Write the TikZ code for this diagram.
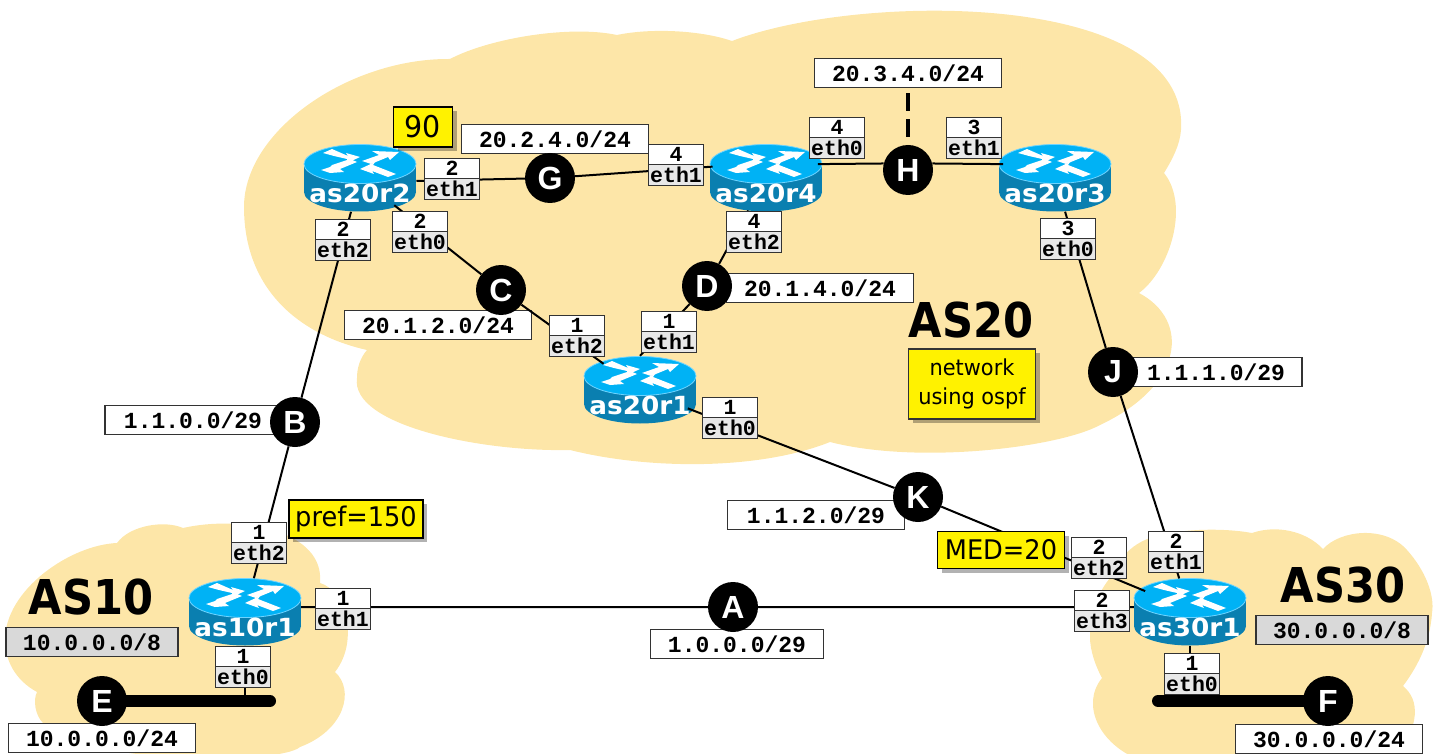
\documentclass[tikz,border=0pt]{standalone}
\usepackage{fontspec}
\usetikzlibrary{shapes.geometric,shapes.multipart,shadows}
\newfontfamily\netfont{Liberation Mono}
\newfontfamily\noteFont[FakeStretch=0.95]{DejaVu Sans}
\newfontfamily\asFont[FakeStretch=0.9]{DejaVu Sans}
\newfontfamily\routerFont[FakeStretch=1.05]{DejaVu Sans}
\newfontfamily\letterFont{Liberation Sans}
\definecolor{cloudcolor}{HTML}{FDE6A8}
\definecolor{routertop}{HTML}{00B2F5}
\definecolor{routerside}{HTML}{0A7FB0}
\definecolor{routerrim}{HTML}{6FD4FF}
\definecolor{boxline}{HTML}{333333}
\tikzset{
    cloud/.style={fill=cloudcolor},
    router/.style={ellipse, inner sep=0pt, minimum width=113pt, minimum height=68pt},
    routertext/.style={text=white, yshift=-15pt, inner sep=0pt, font=\routerFont\bfseries\fontsize{25}{26}\selectfont},
    letter/.style={circle, fill=black, text=white, inner sep=0pt, minimum size=50pt, font=\letterFont\bfseries\fontsize{32}{32}\selectfont},
    netbox/.style={draw=boxline, fill=white, line width=1.2pt, minimum width=187pt, minimum height=29pt, inner sep=0pt, font=\netfont\bfseries\fontsize{23}{24}\selectfont},
    asbox/.style={netbox, fill=black!15, minimum width=172pt},
    ifbox/.style={rectangle split, rectangle split parts=2, rectangle split part fill={white,black!9}, draw=boxline, line width=1.2pt, text width=54pt, align=center, inner xsep=0.5pt, inner ysep=2pt, font=\netfont\bfseries\fontsize{21.5}{19}\selectfont},
    note/.style={draw=black, fill=yellow, line width=1.8pt, inner sep=0pt, font=\noteFont\fontsize{27}{30}\selectfont, general shadow={shadow xshift=4pt, shadow yshift=-4pt, fill=black, opacity=.3}},
    asname/.style={inner sep=0pt, font=\asFont\bfseries\fontsize{48}{48}\selectfont},
    link/.style={draw, line width=2pt},
    lan/.style={draw, line width=12pt, line cap=round},
}
\newcommand{\routericon}[2]{
    \begin{scope}[shift={(#1,#2)}]
        \fill[routerside] (-56,-14) rectangle (56,14);
        \fill[routerside] (0,14) ellipse [x radius=56, y radius=19.5];
        \fill[routertop, draw=routerrim, line width=.8pt] (0,-14) ellipse [x radius=56, y radius=19.5];
        \fill[white] (-37,-25) -- (-28,-29) -- (-12,-22) -- (-14,-25) -- (0,-21) -- (-13,-15) -- (-13,-19) -- (-26,-22) -- cycle;
        \fill[white] (2,-17) -- (19,-23) -- (12,-27) -- (39,-26) -- (30,-18) -- (28,-21) -- (11,-14) -- cycle;
        \fill[white] (-39,-8) -- (-30,-11) -- (-28,-13) -- (-10,-19) -- (-3,-16) -- (-20,-9) -- (-16,-6) -- (-30,-5) -- cycle;
        \fill[white] (0,-9) -- (15,-16) -- (13,-13) -- (36,-4) -- (28,-1) -- (12,-7) -- (14,-4) -- cycle;
    \end{scope}
}
\newcommand{\ifacebox}[5]{
    \node[ifbox] (#1) at (#2,#3) {#4\nodepart{two}#5};
}
\begin{document}
\begin{tikzpicture}[x=1pt, y=-1pt]
    \useasboundingbox (0,0) rectangle (1435,754);

    \fill[cloud] (244,207) .. controls (244,130) and (350,58) .. (450,59)
        .. controls (490,38) and (570,25) .. (617,35)
        .. controls (650,28) and (700,30) .. (732,41)
        .. controls (860,-8) and (1190,-10) .. (1181,130)
        .. controls (1180,145) and (1172,160) .. (1164,173)
        .. controls (1190,205) and (1170,270) .. (1139,293)
        .. controls (1190,320) and (1185,385) .. (1100,425)
        .. controls (1060,447) and (920,465) .. (830,442)
        .. controls (760,470) and (650,470) .. (570,450)
        .. controls (480,452) and (350,425) .. (357,378)
        .. controls (357,368) and (360,358) .. (367,350)
        .. controls (300,335) and (244,290) .. (244,207) -- cycle;

    \fill[cloud] (5,640) .. controls (5,590) and (70,545) .. (117,543)
        .. controls (130,525) and (165,520) .. (183,528)
        .. controls (240,515) and (325,530) .. (320,583)
        .. controls (345,590) and (360,640) .. (335,672)
        .. controls (355,690) and (345,730) .. (300,747)
        .. controls (280,765) and (80,765) .. (43,723)
        .. controls (35,715) and (33,700) .. (37,692)
        .. controls (15,680) and (5,660) .. (5,640) -- cycle;

    \fill[cloud] (1090,637) .. controls (1090,610) and (1100,590) .. (1110,578)
        .. controls (1118,560) and (1130,545) .. (1150,538)
        .. controls (1180,528) and (1225,528) .. (1252,533)
        .. controls (1275,525) and (1305,530) .. (1323,549)
        .. controls (1340,530) and (1385,525) .. (1407,550)
        .. controls (1425,570) and (1435,595) .. (1432,613)
        .. controls (1430,645) and (1415,670) .. (1403,686)
        .. controls (1420,700) and (1420,725) .. (1395,760)
        -- (1140,760) .. controls (1100,745) and (1080,705) .. (1102,678)
        .. controls (1095,665) and (1090,650) .. (1090,637) -- cycle;

    \node[netbox] (net24) at (555,139) {20.2.4.0/24};
    \node[netbox] (net34) at (908,73) {20.3.4.0/24};
    \node[netbox] (net14) at (820,288) {20.1.4.0/24};
    \node[netbox] (net12) at (438,325) {20.1.2.0/24};
    \node[netbox, minimum width=172pt] (net111) at (1216,372) {1.1.1.0/29};
    \node[netbox, minimum width=176pt] (net110) at (193,420) {1.1.0.0/29};
    \node[netbox, minimum width=177pt] (net112) at (816,515) {1.1.2.0/29};
    \node[netbox, minimum width=173pt] (net100) at (737,644) {1.0.0.0/29};
    \node[netbox] (net10) at (102,738) {10.0.0.0/24};
    \node[netbox] (net30) at (1329,739) {30.0.0.0/24};
    \node[asbox] (net10as) at (92,642) {10.0.0.0/8};
    \node[asbox] (net30as) at (1342,630) {30.0.0.0/8};

    \routericon{360}{178}
    \routericon{766}{178}
    \routericon{1055}{178}
    \routericon{640}{390}
    \routericon{245}{612}
    \routericon{1190}{612}
    \node[router, label={[routertext]center:as20r2}] (as20r2) at (360,178) {};
    \node[router, label={[routertext]center:as20r4}] (as20r4) at (766,178) {};
    \node[router, label={[routertext]center:as20r3}] (as20r3) at (1055,178) {};
    \node[router, label={[routertext]center:as20r1}] (as20r1) at (640,390) {};
    \node[router, label={[routertext]center:as10r1}] (as10r1) at (245,612) {};
    \node[router, label={[routertext]center:as30r1}] (as30r1) at (1190,612) {};

    \node[letter] (A) at (733,607) {A};
    \node[letter] (B) at (295,422) {B};
    \node[letter] (C) at (501,290) {C};
    \node[letter] (D) at (707,286) {D};
    \node[letter] (E) at (102,701) {E};
    \node[letter] (F) at (1328,701) {F};
    \node[letter] (G) at (550,178) {G};
    \node[letter] (H) at (908,170) {H};
    \node[letter] (J) at (1113,372) {J};
    \node[letter] (K) at (918,497) {K};

    \coordinate (tapE) at (245,701);
    \coordinate (endE) at (270,701);
    \coordinate (tapF) at (1190,701);
    \coordinate (endF) at (1158,701);

    \path[link] (as10r1.5) -- (A) -- (as30r1.175);
    \path[link] (as20r2) -- (B) -- (as10r1);
    \path[link] (as20r2) -- (C) -- (as20r1);
    \path[link] (as20r4) -- (D) -- (as20r1.north);
    \path[link] (as20r2.-3) -- (G) -- (as20r4.168);
    \path[link] (as20r4.15) -- (H.165);
    \path[link] (H.15) -- (as20r3.165);
    \path[link] (as20r3) -- (J) -- (as30r1);
    \path[link] (as20r1) -- (K) -- (as30r1.155);
    \path[link] (as10r1) -- (tapE);
    \path[link] (as30r1) -- (tapF);
    \draw[line width=3.5pt, dash pattern=on 18pt off 8pt, shorten >=8pt, shorten <=5pt] (net34) -- (H);
    \path[lan] (E) -- (endE);
    \path[lan] (F) -- (endF);

    \ifacebox{r2eth1}{452}{179}{2}{eth1}
    \ifacebox{r2eth2}{343}{240}{2}{eth2}
    \ifacebox{r2eth0}{420}{232}{2}{eth0}
    \ifacebox{r4eth1}{676}{165}{4}{eth1}
    \ifacebox{r4eth0}{837}{138}{4}{eth0}
    \ifacebox{r4eth2}{754}{232}{4}{eth2}
    \ifacebox{r3eth1}{974}{138}{3}{eth1}
    \ifacebox{r3eth0}{1068}{239}{3}{eth0}
    \ifacebox{r1eth2}{577}{336}{1}{eth2}
    \ifacebox{r1eth1}{669}{332}{1}{eth1}
    \ifacebox{r1eth0}{730}{418}{1}{eth0}
    \ifacebox{as10eth2}{259}{543}{1}{eth2}
    \ifacebox{as10eth1}{343}{609}{1}{eth1}
    \ifacebox{as10eth0}{243}{667}{1}{eth0}
    \ifacebox{as30eth2}{1099}{558}{2}{eth2}
    \ifacebox{as30eth1}{1176}{552}{2}{eth1}
    \ifacebox{as30eth3}{1102}{611}{2}{eth3}
    \ifacebox{as30eth0}{1192}{674}{1}{eth0}

    \node[note, minimum width=59pt, minimum height=40pt, font=\noteFont\fontsize{30}{32}\selectfont] (lp90) at (423,127) {90};
    \node[note, minimum width=134pt, minimum height=38pt] (pref) at (356,519) {pref=150};
    \node[note, minimum width=127pt, minimum height=37pt] (med) at (1001,550) {MED=20};
    \node[note, draw=boxline, line width=1.2pt, minimum width=127pt, minimum height=70pt, align=center, font=\noteFont\fontsize{22}{29}\selectfont] (ospf) at (972,384) {network\\using ospf};

    \node[asname] (as10) at (91,597) {AS10};
    \node[asname] (as20) at (971,320) {AS20};
    \node[asname] (as30) at (1343,585) {AS30};
\end{tikzpicture}
\end{document}
